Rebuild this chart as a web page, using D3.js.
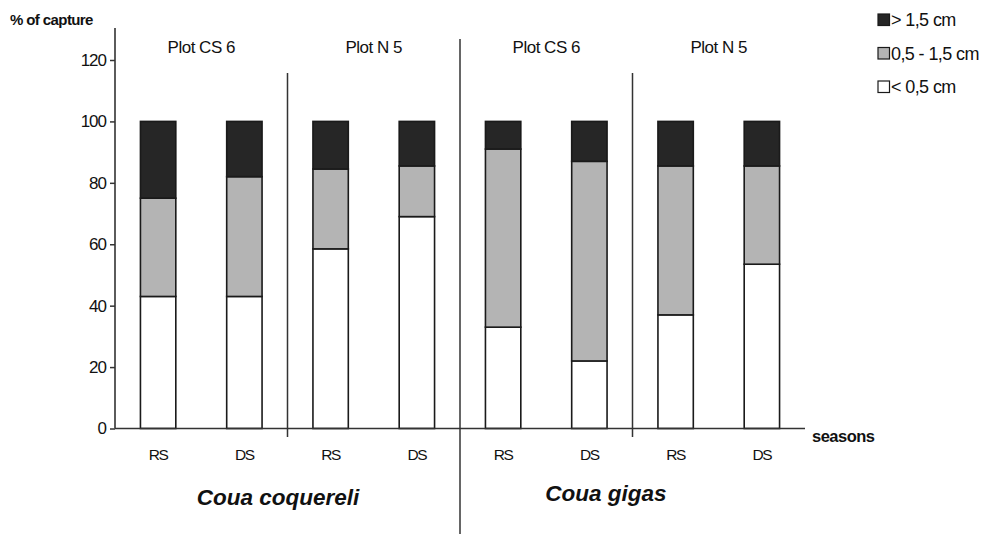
<!DOCTYPE html>
<html>
<head>
<meta charset="utf-8">
<script src="https://cdn.jsdelivr.net/npm/d3@7"></script>
<style>
  body { margin: 0; background: #fff; }
  svg { display: block; }
  text { font-family: "Liberation Sans", Arial, sans-serif; fill: #111; }
</style>
</head>
<body>
<svg id="chart" width="991" height="534"></svg>
<script>
// ---- data ----
const bars = ["CC-CS6-RS", "CC-CS6-DS", "CC-N5-RS", "CC-N5-DS", "CG-CS6-RS", "CG-CS6-DS", "CG-N5-RS", "CG-N5-DS"];
const seasonLabels = ["RS", "DS", "RS", "DS", "RS", "DS", "RS", "DS"];
const plotLabels = ["Plot CS 6", "Plot N 5", "Plot CS 6", "Plot N 5"];
const speciesLabels = ["Coua coquereli", "Coua gigas"];
const seriesNames = ["< 0,5 cm", "0,5 - 1,5 cm", "> 1,5 cm"];
const small = [43, 43, 58.5, 69, 33, 22, 37, 53.5];   // < 0,5 cm
const medium = [32, 39, 26, 16.5, 58, 65, 48.5, 32]; // 0,5 - 1,5 cm
const large = [25, 18, 15.5, 14.5, 9, 13, 14.5, 14.5]; // > 1,5 cm
const yTicks = [0, 20, 40, 60, 80, 100, 120];
const colors = ["#ffffff", "#b4b4b4", "#262626"];

const svg = d3.select("#chart");
const x = d3.scaleBand().domain(bars).range([115, 805]).paddingInner(0.59).paddingOuter(0.295);
const y = d3.scaleLinear().domain([0, 120]).range([428.5, 60]);

const table = bars.map((b, i) => ({ bar: b, s0: small[i], s1: medium[i], s2: large[i] }));
const stack = d3.stack().keys(["s0", "s1", "s2"])(table);

// bars
stack.forEach((layer, li) => {
  svg.append("g").selectAll("rect").data(layer).join("rect")
    .attr("x", d => x(d.data.bar))
    .attr("width", x.bandwidth())
    .attr("y", d => y(d[1]))
    .attr("height", d => y(d[0]) - y(d[1]))
    .attr("fill", colors[li])
    .attr("stroke", "#1a1a1a")
    .attr("stroke-width", 1.6);
});

// y axis
const yAxis = svg.append("g").attr("transform", "translate(115,0)")
  .call(d3.axisLeft(y).tickValues(yTicks).tickSize(5).tickPadding(4).tickSizeOuter(0));
yAxis.select(".domain").remove();
yAxis.selectAll("line").attr("stroke", "#333").attr("stroke-width", 1.5);
yAxis.selectAll("text").attr("font-size", 17).attr("fill", "#111")
  .attr("font-family", "'Liberation Sans', Arial, sans-serif")
  .attr("letter-spacing", -1);
svg.append("line").attr("x1", 115).attr("x2", 115).attr("y1", 28).attr("y2", y(0))
  .attr("stroke", "#333").attr("stroke-width", 1.6);

// x axis line
svg.append("line").attr("x1", 115).attr("x2", 805).attr("y1", y(0)).attr("y2", y(0))
  .attr("stroke", "#333").attr("stroke-width", 1.6);

// season labels
svg.append("g").selectAll("text").data(bars).join("text")
  .attr("x", d => x(d) + x.bandwidth() / 2)
  .attr("y", 460)
  .attr("text-anchor", "middle")
  .attr("font-size", 15.5)
  .attr("letter-spacing", -1.5)
  .text((d, i) => seasonLabels[i]);

// dividers
const step = x.step();
const divAt = i => x(bars[i]) - x.paddingInner() * step / 2;
[2, 6].forEach(i => {
  svg.append("line").attr("x1", divAt(i)).attr("x2", divAt(i)).attr("y1", 73).attr("y2", 437)
    .attr("stroke", "#333").attr("stroke-width", 1.5);
});
svg.append("line").attr("x1", divAt(4)).attr("x2", divAt(4)).attr("y1", 39).attr("y2", 534)
  .attr("stroke", "#333").attr("stroke-width", 1.5);

// plot labels
plotLabels.forEach((t, k) => {
  const cx = (x(bars[2 * k]) + x(bars[2 * k + 1]) + x.bandwidth()) / 2;
  svg.append("text").attr("x", cx).attr("y", 53).attr("text-anchor", "middle")
    .attr("font-size", 17).attr("letter-spacing", -0.5).text(t);
});

// species labels
const speciesPos = [[278, 505], [606, 501]];
speciesLabels.forEach((t, k) => {
  svg.append("text").attr("x", speciesPos[k][0]).attr("y", speciesPos[k][1]).attr("text-anchor", "middle")
    .attr("font-size", 22.5).attr("font-weight", "bold").attr("font-style", "italic")
    .attr("fill", "#000").text(t);
});

// axis titles
svg.append("text").attr("x", 10).attr("y", 25).attr("font-size", 15).attr("font-weight", "bold")
  .attr("letter-spacing", -0.6).text("% of capture");
svg.append("text").attr("x", 812).attr("y", 442).attr("font-size", 16.5).attr("font-weight", "bold")
  .attr("letter-spacing", -0.5).text("seasons");

// legend
const legendOrder = [2, 1, 0];
const lg = svg.append("g");
legendOrder.forEach((si, r) => {
  const yy = 14 + r * 33.5;
  lg.append("rect").attr("x", 878).attr("y", yy).attr("width", 11.5).attr("height", 11.5)
    .attr("fill", colors[si]).attr("stroke", "#1a1a1a").attr("stroke-width", 1.2);
  lg.append("text").attr("x", 891).attr("y", yy + 12).attr("font-size", 18)
    .attr("letter-spacing", -0.6).text(seriesNames[si]);
});
</script>
</body>
</html>
